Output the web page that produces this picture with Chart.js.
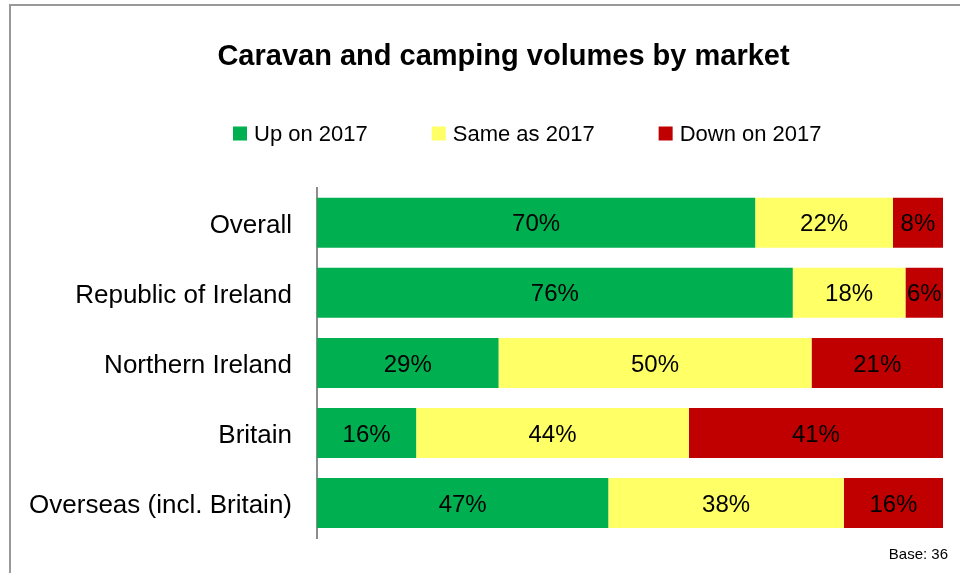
<!DOCTYPE html>
<html>
<head>
<meta charset="utf-8">
<script src="https://cdn.jsdelivr.net/npm/chart.js@4.4.1/dist/chart.umd.min.js"></script>
<style>
  html, body { margin: 0; padding: 0; background: #fff; }
  #wrap { position: relative; width: 960px; height: 573px; overflow: hidden; }
  #frame { position: absolute; left: 9px; top: 4px; width: 1000px; height: 700px;
           border-left: 2px solid #999; border-top: 2px solid #999; }
  canvas { position: absolute; left: 0; top: 0; }
</style>
</head>
<body>
<div id="wrap">
  <div id="frame"></div>
  <canvas id="c" width="960" height="573"></canvas>
</div>
<script>
const categories = ['Overall', 'Republic of Ireland', 'Northern Ireland', 'Britain', 'Overseas (incl. Britain)'];
const seriesNames = ['Up on 2017', 'Same as 2017', 'Down on 2017'];
const upOn2017 = [70, 76, 29, 16, 47];
const sameAs2017 = [22, 18, 50, 44, 38];
const downOn2017 = [8, 6, 21, 41, 16];
const chartTitle = 'Caravan and camping volumes by market';
const baseNote = 'Base: 36';

const colors = ['#00B050', '#FFFF66', '#C00000'];
const FONT = "'Liberation Sans', Arial, sans-serif";
Chart.defaults.font.family = FONT;

const raw = [upOn2017, sameAs2017, downOn2017];
const totals = categories.map((_, i) => raw.reduce((s, arr) => s + arr[i], 0));
const shares = raw.map(arr => arr.map((v, i) => v / totals[i] * 100));

const datasets = raw.map((arr, k) => ({
  label: seriesNames[k],
  data: shares[k],
  rawValues: arr,
  backgroundColor: colors[k],
  borderWidth: 0,
  categoryPercentage: 50 / 70,
  barPercentage: 1
}));

const titleShift = {
  id: 'titleShift',
  afterLayout(chart) {
    const t = chart.titleBlock;
    if (t) { t.left += 32; t.right += 32; }
  }
};

const labelPlugin = {
  id: 'barLabels',
  afterDatasetsDraw(chart) {
    const ctx = chart.ctx;
    ctx.save();
    ctx.font = '24px ' + FONT;
    ctx.fillStyle = '#000';
    ctx.textAlign = 'center';
    ctx.textBaseline = 'middle';
    chart.data.datasets.forEach((ds, k) => {
      const meta = chart.getDatasetMeta(k);
      meta.data.forEach((el, i) => {
        const x = (el.x + el.base) / 2;
        ctx.fillText(ds.rawValues[i] + '%', x, el.y + 2);
      });
    });
    ctx.restore();
  }
};

const legendPlugin = {
  id: 'customLegend',
  afterDraw(chart) {
    const ctx = chart.ctx;
    ctx.save();
    ctx.font = '22px ' + FONT;
    ctx.textBaseline = 'middle';
    ctx.textAlign = 'left';
    let x = 233;
    const cy = 134;
    const box = 13;
    chart.data.datasets.forEach((ds) => {
      ctx.fillStyle = ds.backgroundColor;
      ctx.fillRect(x, cy - box / 2 - 1, box + 1, box + 1);
      ctx.fillStyle = '#000';
      const tx = x + 21;
      ctx.fillText(ds.label, tx, cy + 1);
      x = tx + ctx.measureText(ds.label).width + 64;
    });
    ctx.font = '15px ' + FONT;
    ctx.textAlign = 'right';
    ctx.fillStyle = '#000';
    ctx.fillText(baseNote, 948, 555);
    ctx.restore();
  }
};

new Chart(document.getElementById('c'), {
  type: 'bar',
  data: { labels: categories, datasets },
  options: {
    indexAxis: 'y',
    responsive: false,
    animation: false,
    layout: { padding: { left: 0, right: 17, top: 0, bottom: 35 } },
    plugins: {
      legend: { display: false },
      tooltip: { enabled: false },
      title: {
        display: true,
        text: chartTitle,
        color: '#000',
        font: { size: 29, weight: 'bold', family: FONT },
        padding: { top: 40, bottom: 113 }
      }
    },
    scales: {
      x: { stacked: true, min: 0, max: 100, display: false },
      y: {
        stacked: true,
        grid: { display: false, drawTicks: false },
        border: { display: true, color: '#8c8c8c', width: 2 },
        ticks: { color: '#000', font: { size: 26, family: FONT }, padding: 25, labelOffset: 3 },
        afterFit(scale) { scale.width = 317; scale.paddingTop = 0; scale.paddingBottom = 0; }
      }
    }
  },
  plugins: [titleShift, labelPlugin, legendPlugin]
});
</script>
</body>
</html>
